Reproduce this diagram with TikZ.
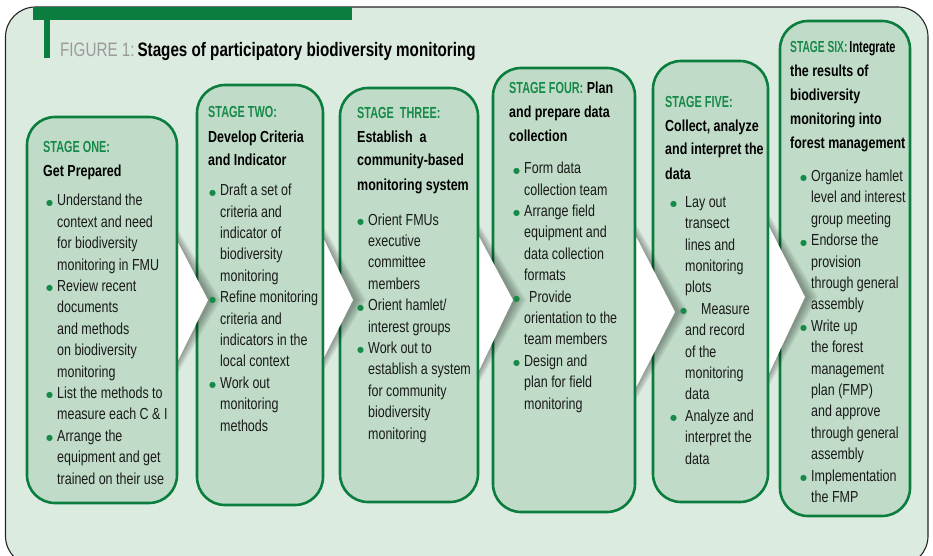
\documentclass[tikz,border=0pt]{standalone}
\usepackage{fontspec}
\setmainfont{Liberation Sans}[FakeStretch=0.78]
\newfontfamily\lblfont{Liberation Sans}[FakeStretch=0.68]
\newfontfamily\narrowfont{Liberation Sans}[FakeStretch=0.64]
\newfontfamily\dotfont{DejaVu Sans}
\usetikzlibrary{calc}

\definecolor{frameFill}{HTML}{DCEBE0}
\definecolor{boxFill}{HTML}{C0DCC8}
\definecolor{boxLine}{HTML}{0B7D3E}
\definecolor{labelGreen}{HTML}{178A4A}
\definecolor{titleGray}{HTML}{9A9A9A}
\definecolor{bodyText}{HTML}{1A1A1A}

\newlength{\bulw}
\newcommand{\dotmark}{\raisebox{0.6pt}{\textcolor{labelGreen}{\dotfont\fontsize{8}{8}\selectfont ●}}}
\newcommand{\bul}{\makebox[\bulw][l]{\dotmark}}
\newcommand{\cont}{\hspace*{\bulw}}
\newcommand{\stg}[1]{{\lblfont\color{labelGreen}#1}}
\newcommand{\bodyfont}{\fontsize{16}{21.4}\selectfont}
\newcommand{\headfont}{\fontsize{16}{24}\selectfont\bfseries}

% white arrow tip with its shadow: top, tip, bottom
\newcommand{\chevron}[3]{%
	\foreach \k in {1,...,7}
		\fill[black, opacity=0.05] ($(#1)+(0,-1.8*\k)$) -- ($(#2)+(2+1.6*\k,0)$) -- ($(#3)+(0,1.8*\k)$) -- cycle;
	\fill[white] (#1) -- (#2) -- (#3) -- cycle;
}

\tikzset{%
	stagebox/.style  = {draw=boxLine, line width=2.6pt, fill=boxFill, rectangle,
		rounded corners=28pt},
	headtext/.style  = {anchor=base west, inner sep=0pt, align=left, font=\headfont}, % placed at last line
	bodytext/.style  = {anchor=base west, inner sep=0pt, align=left, font=\bodyfont,
		text=bodyText, execute at begin node={\setlength{\bulw}{#1}}},
	bodytext/.default = 11pt,
	titletext/.style = {anchor=base west, inner sep=0pt, font=\fontsize{19.5}{23}\selectfont}
}

\begin{document}
\begin{tikzpicture}[x=1pt, y=-1pt]
	\clip (0,0) rectangle (933,556);
	\fill[white] (0,0) rectangle (933,556);
	\draw[fill=frameFill, draw=black!85, line width=1.1pt, rounded corners=30pt] (5.5,7) rectangle (928,566);
	\fill[boxLine] (33,7) rectangle (352,20);
	\fill[boxLine] (44,20) rectangle (50,58);
	\node[titletext] (title) at (60,57) {\textcolor{titleGray}{FIGURE 1:}\hspace{3pt}\textbf{Stages of participatory biodiversity monitoring}};
	
	\node[stagebox, minimum width=150pt, minimum height=386pt] (stageOne)   at (102,310)   {};
	\node[stagebox, minimum width=126pt, minimum height=420pt] (stageTwo)   at (260,295)   {};
	\node[stagebox, minimum width=138pt, minimum height=414pt] (stageThree) at (409,295)   {};
	\node[stagebox, minimum width=142pt, minimum height=444pt] (stageFour)  at (564,290)   {};
	\node[stagebox, minimum width=115pt, minimum height=441pt] (stageFive)  at (710.5,281.5) {};
	\node[stagebox, minimum width=130pt, minimum height=495pt] (stageSix)   at (845,268.5) {};
	
	\coordinate (topOne)   at (stageOne.east |- 0,243);
	\coordinate (tipOne)   at (208,300);
	\coordinate (botOne)   at (stageOne.east |- 0,360);
	\coordinate (topTwo)   at (stageTwo.east |- 0,240);
	\coordinate (tipTwo)   at (353,300);
	\coordinate (botTwo)   at (stageTwo.east |- 0,357);
	\coordinate (topThree) at (stageThree.east |- 0,237);
	\coordinate (tipThree) at (513,300);
	\coordinate (botThree) at (stageThree.east |- 0,370);
	\coordinate (topFour)  at (stageFour.east |- 0,237);
	\coordinate (tipFour)  at (675,312);
	\coordinate (botFour)  at (stageFour.east |- 0,387);
	\coordinate (topFive)  at (stageFive.east |- 0,227);
	\coordinate (tipFive)  at (805,297);
	\coordinate (botFive)  at (stageFive.east |- 0,373);
	\chevron{topOne}{tipOne}{botOne}
	\chevron{topTwo}{tipTwo}{botTwo}
	\chevron{topThree}{tipThree}{botThree}
	\chevron{topFour}{tipFour}{botFour}
	\chevron{topFive}{tipFive}{botFive}
	
	\node[headtext] (headOne)   at (43,176)  {\stg{STAGE ONE:}\\Get Prepared};
	\node[headtext] (headTwo)   at (208,166) {\stg{STAGE TWO:}\\Develop Criteria\\and Indicator};
	\node[headtext] (headThree) at (357,190) {\stg{STAGE\ \ THREE:}\\Establish\ \ a\\community-based\\monitoring system};
	\node[headtext] (headFour)  at (509,142) {\stg{STAGE FOUR:} Plan\\and prepare data\\collection};
	\node[headtext] (headFive)  at (665,179) {\stg{STAGE FIVE:}\\Collect, analyze\\and interpret the\\data};
	\node[headtext] (headSix)   at (790,149) {{\narrowfont\color{labelGreen}STAGE SIX:}\hspace{2pt}{\lblfont Integrate}\\the results of\\biodiversity\\monitoring into\\forest management};
	
	\node[bodytext] (bodyOne) at (46,484) {\bul Understand the\\\cont context and need\\\cont for biodiversity\\\cont monitoring in FMU\\
		\bul Review recent\\\cont documents\\\cont and methods\\\cont on biodiversity\\\cont monitoring\\
		\bul List the methods to\\\cont measure each C \& I\\
		\bul Arrange the\\\cont equipment and get\\\cont trained on their use};
	\node[bodytext] (bodyTwo) at (209,431) {\bul Draft a set of\\\cont criteria and\\\cont indicator of\\\cont biodiversity\\\cont monitoring\\
		\bul Refine monitoring\\\cont criteria and\\\cont indicators in the\\\cont local context\\
		\bul Work out\\\cont monitoring\\\cont methods};
	\node[bodytext] (bodyThree) at (357,439) {\bul Orient FMUs\\\cont executive\\\cont committee\\\cont members\\
		\bul Orient hamlet/\\\cont interest groups\\
		\bul Work out to\\\cont establish a system\\\cont for community\\\cont biodiversity\\\cont monitoring};
	\node[bodytext] (bodyFour) at (513,409) {\bul Form data\\\cont collection team\\
		\bul Arrange field\\\cont equipment and\\\cont data collection\\\cont formats\\
		\bul\hspace*{5pt}Provide\\\cont orientation to the\\\cont team members\\
		\bul Design and\\\cont plan for field\\\cont monitoring};
	\node[bodytext=15pt] (bodyFive) at (670,464) {\bul Lay out\\\cont transect\\\cont lines and\\\cont monitoring\\\cont plots\\
		\hspace*{10pt}\bul\hspace*{6pt}Measure\\\cont and record\\\cont of the\\\cont monitoring\\\cont data\\
		\bul Analyze and\\\cont interpret the\\\cont data};
	\node[bodytext] (bodySix) at (800,502.5) {\bul Organize hamlet\\\cont level and interest\\\cont group meeting\\
		\bul Endorse the\\\cont provision\\\cont through general\\\cont assembly\\
		\bul Write up\\\cont the forest\\\cont management\\\cont plan (FMP)\\\cont and approve\\\cont through general\\\cont assembly\\
		\bul Implementation\\\cont the FMP};
\end{tikzpicture}
\end{document}
